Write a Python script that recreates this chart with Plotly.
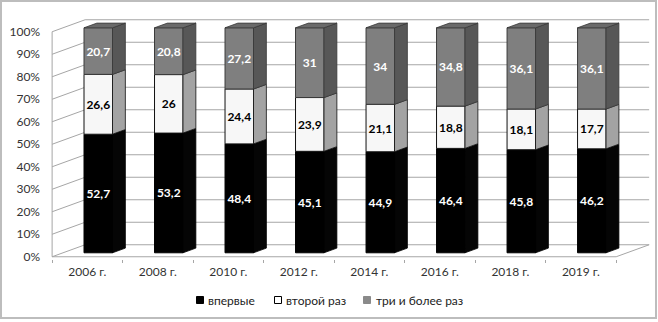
import plotly.graph_objects as go

# ---- data ----
years = ["2006 г.", "2008 г.", "2010 г.", "2012 г.", "2014 г.", "2016 г.", "2018 г.", "2019 г."]
first_time = [52.7, 53.2, 48.4, 45.1, 44.9, 46.4, 45.8, 46.2]
second_time = [26.6, 26, 24.4, 23.9, 21.1, 18.8, 18.1, 17.7]
three_plus = [20.7, 20.8, 27.2, 31, 34, 34.8, 36.1, 36.1]
series_names = ["впервые", "второй раз", "три и более раз"]
y_tick_values = list(range(0, 101, 10))
y_tick_labels = [f"{v}%" for v in y_tick_values]

# ---- styling / geometry ----
W_PX, H_PX = 658, 322
L, R, T, B = 50, 8, 16, 63
X0, X1 = -0.03, 8.48
Y0, Y1 = -1, 107
DX, DY = 0.468, 5.33          # depth vector (data units) for full floor depth
ZF, ZB = 0.33, 0.72           # bar front / back depth
A, WD = 0.298, 0.404          # bar offset and width inside a category
front_cols = ["#000000", "#f7f7f7", "#7f7f7f"]
side_cols = ["#050505", "#a3a3a3", "#575757"]
edge_cols = ["#000000", "#111111", "#3a3a3a"]
text_cols = ["#ffffff", "#000000", "#ffffff"]
top_col = "#6a6a6a"
grid_col = "#a6a6a6"
FONT = "Lato"

def fmt(v):
    return f"{v:g}".replace(".", ",")

def px2paper(px, py):
    pw = W_PX - L - R
    ph = H_PX - T - B
    return (px - L) / pw, (H_PX - B - py) / ph

fig = go.Figure()

series = [first_time, second_time, three_plus]
n = len(years)
cum = [0.0] * n
for s, vals in enumerate(series):
    base = [c + DY * ZF for c in cum]
    xc = [i + A + WD / 2 + DX * ZF for i in range(n)]
    fig.add_trace(go.Bar(
        x=xc, y=vals, base=base, width=WD,
        marker=dict(color=front_cols[s], line=dict(color=edge_cols[s], width=1)),
        text=[fmt(v) for v in vals], textposition="inside", insidetextanchor="middle",
        textangle=0, textfont=dict(family=FONT, size=12, color=text_cols[s], weight="bold"),
        name=series_names[s], showlegend=False, hoverinfo="skip",
    ))
    # side faces
    sx, sy = [], []
    for i in range(n):
        xr = i + A + WD
        y0, y1 = cum[i], cum[i] + vals[i]
        sx += [xr + DX * ZF, xr + DX * ZB, xr + DX * ZB, xr + DX * ZF, xr + DX * ZF, None]
        sy += [y0 + DY * ZF, y0 + DY * ZB, y1 + DY * ZB, y1 + DY * ZF, y0 + DY * ZF, None]
    fig.add_trace(go.Scatter(
        x=sx, y=sy, mode="lines", fill="toself", fillcolor=side_cols[s],
        line=dict(color=edge_cols[s], width=0.8), showlegend=False, hoverinfo="skip",
    ))
    cum = [c + v for c, v in zip(cum, vals)]

# top faces
tx, ty = [], []
for i in range(n):
    xl, xr = i + A, i + A + WD
    yt = cum[i]
    tx += [xl + DX * ZF, xr + DX * ZF, xr + DX * ZB, xl + DX * ZB, xl + DX * ZF, None]
    ty += [yt + DY * ZF, yt + DY * ZF, yt + DY * ZB, yt + DY * ZB, yt + DY * ZF, None]
fig.add_trace(go.Scatter(
    x=tx, y=ty, mode="lines", fill="toself", fillcolor=top_col,
    line=dict(color="#3a3a3a", width=0.8), showlegend=False, hoverinfo="skip",
))

shapes = []
# back wall gridlines + side-wall slants
for v in y_tick_values:
    shapes.append(dict(type="line", xref="x", yref="y", x0=0, y0=v, x1=DX, y1=v + DY,
                       line=dict(color=grid_col, width=1), layer="below"))
    shapes.append(dict(type="line", xref="x", yref="y", x0=DX, y0=v + DY, x1=n + DX, y1=v + DY,
                       line=dict(color=grid_col, width=1), layer="below"))
# front vertical axis
shapes.append(dict(type="line", xref="x", yref="y", x0=0, y0=0, x1=0, y1=100,
                   line=dict(color=grid_col, width=1), layer="below"))
# floor front edge and right edge
shapes.append(dict(type="line", xref="x", yref="y", x0=0, y0=0, x1=n, y1=0,
                   line=dict(color=grid_col, width=1), layer="below"))
shapes.append(dict(type="line", xref="x", yref="y", x0=n, y0=0, x1=n + DX, y1=DY,
                   line=dict(color=grid_col, width=1), layer="below"))

# outer border
bx0, by0 = px2paper(1, 318)
bx1, by1 = px2paper(656, 1)
shapes.append(dict(type="rect", xref="paper", yref="paper", x0=bx0, y0=by0, x1=bx1, y1=by1,
                   line=dict(color="#bdbdbd", width=2), layer="below"))

# legend (manual)
legend_items = [(200, 206, front_cols[0], "#000000"), (278, 284, "#ffffff", "#000000"),
                (367, 374, "#8a8a8a", "#8a8a8a")]
annotations = []
for (sqx, txx, fc, lc), name in zip(legend_items, series_names):
    qx0, qy0 = px2paper(sqx - 3.5, 303.5)
    qx1, qy1 = px2paper(sqx + 3.5, 296.5)
    shapes.append(dict(type="rect", xref="paper", yref="paper", x0=qx0, y0=qy0, x1=qx1, y1=qy1,
                       fillcolor=fc, line=dict(color=lc, width=1)))
    ax, ay = px2paper(txx, 300)
    annotations.append(dict(xref="paper", yref="paper", x=ax, y=ay, text=name, showarrow=False,
                            xanchor="left", yanchor="middle",
                            font=dict(family=FONT, size=12, color="#222222")))

fig.update_layout(
    width=W_PX, height=H_PX,
    margin=dict(l=L, r=R, t=T, b=B, pad=0),
    paper_bgcolor="white", plot_bgcolor="white",
    barmode="overlay",
    uniformtext=dict(minsize=12, mode="show"),
    shapes=shapes, annotations=annotations,
    showlegend=False,
    xaxis=dict(range=[X0, X1], tickmode="array",
               tickvals=[i + 0.5 for i in range(n)], ticktext=years,
               ticks="", showgrid=False, zeroline=False, showline=False,
               tickfont=dict(family=FONT, size=12, color="#333333"),
               minor=dict(tickmode="array", tickvals=list(range(n + 1)), ticks="outside",
                          ticklen=3, tickcolor=grid_col, showgrid=False),
               ticklabelstandoff=4, fixedrange=True),
    yaxis=dict(range=[Y0, Y1], tickmode="array", tickvals=y_tick_values, ticktext=y_tick_labels,
               ticks="", showgrid=False, zeroline=False, showline=False,
               tickfont=dict(family=FONT, size=12, color="#333333"),
               ticklabelstandoff=9, fixedrange=True),
)

fig.write_html("out.html", config={"displayModeBar": False},
               post_script="document.body.style.margin='0';document.body.style.overflow='hidden';")
